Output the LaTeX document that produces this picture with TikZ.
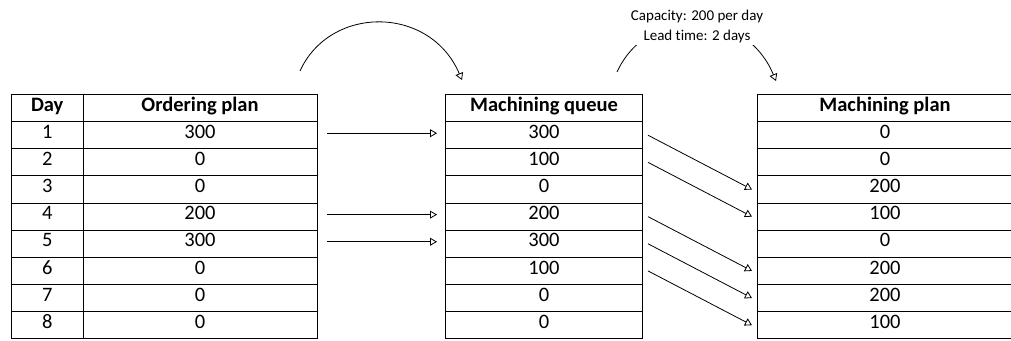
\documentclass[tikz,border=0pt]{standalone}
\usepackage{fontspec}
\setmainfont{Carlito}[Ligatures=NoCommon]
\usetikzlibrary{arrows.meta}

\begin{document}
\begin{tikzpicture}[x=1pt, y=-1pt,
  cell/.style={draw, line width=1pt, inner sep=0pt, anchor=north west,
    minimum height=27.14pt, text height=0.63em, text depth=0pt,
    font=\fontsize{20.5}{24}\selectfont},
  hcell/.style={cell, font=\fontsize{20.5}{24}\selectfont\bfseries},
  flow/.style={line width=0.8pt, -{Triangle[open, length=7pt, width=8pt]}},
  note/.style={fill=white, inner sep=2pt, align=center,
    font=\fontsize{15}{20}\selectfont}]
\useasboundingbox (0,0) rectangle (1011,340);

% Ordering table
\node[hcell, minimum width=71.5pt] (dh) at (11,94) {Day};
\node[hcell, minimum width=234pt] (oh) at (82.5,94) {Ordering plan};
\foreach \v [count=\i] in {300,0,0,200,300,0,0,0} {
  \node[cell, minimum width=71.5pt] (d\i) at (11,{94+\i*27.14}) {\i};
  \node[cell, minimum width=234pt] (o\i) at (82.5,{94+\i*27.14}) {\v};
}

% Machining queue
\node[hcell, minimum width=197pt] (qh) at (445,94) {Machining queue};
\foreach \v [count=\i] in {300,100,0,200,300,100,0,0}
  \node[cell, minimum width=197pt] (q\i) at (445,{94+\i*27.14}) {\v};

% Machining plan
\node[hcell, minimum width=255pt] (ph) at (757,94) {Machining plan};
\foreach \v [count=\i] in {0,0,200,100,0,200,200,100}
  \node[cell, minimum width=255pt] (p\i) at (757,{94+\i*27.14}) {\v};

% Orders entering the queue
\foreach \i in {1,4,5}
  \draw[flow] ([xshift=9.5pt,yshift=2pt]o\i.east) -- ([xshift=-8pt,yshift=2pt]q\i.west);

% Queue released to the plan two days later
\foreach \a/\b in {1/3,2/4,4/6,5/7,6/8}
  \draw[flow] ([xshift=5pt]q\a.east) -- ([xshift=-5pt]p\b.west);

% Curved arrows between the tables
\coordinate (s1) at (300,71);
\coordinate (e1) at (462,80);
\draw[flow] (s1) .. controls (330,5) and (430,5) .. (e1);

\coordinate (s2) at (617,72);
\coordinate (e2) at (776,81);
\draw[flow] (s2) .. controls (647,6) and (745,6) .. (e2);
\node[note] (cap) at (697,27) {Capacity: 200 per day\\Lead time: 2 days};
\end{tikzpicture}
\end{document}
